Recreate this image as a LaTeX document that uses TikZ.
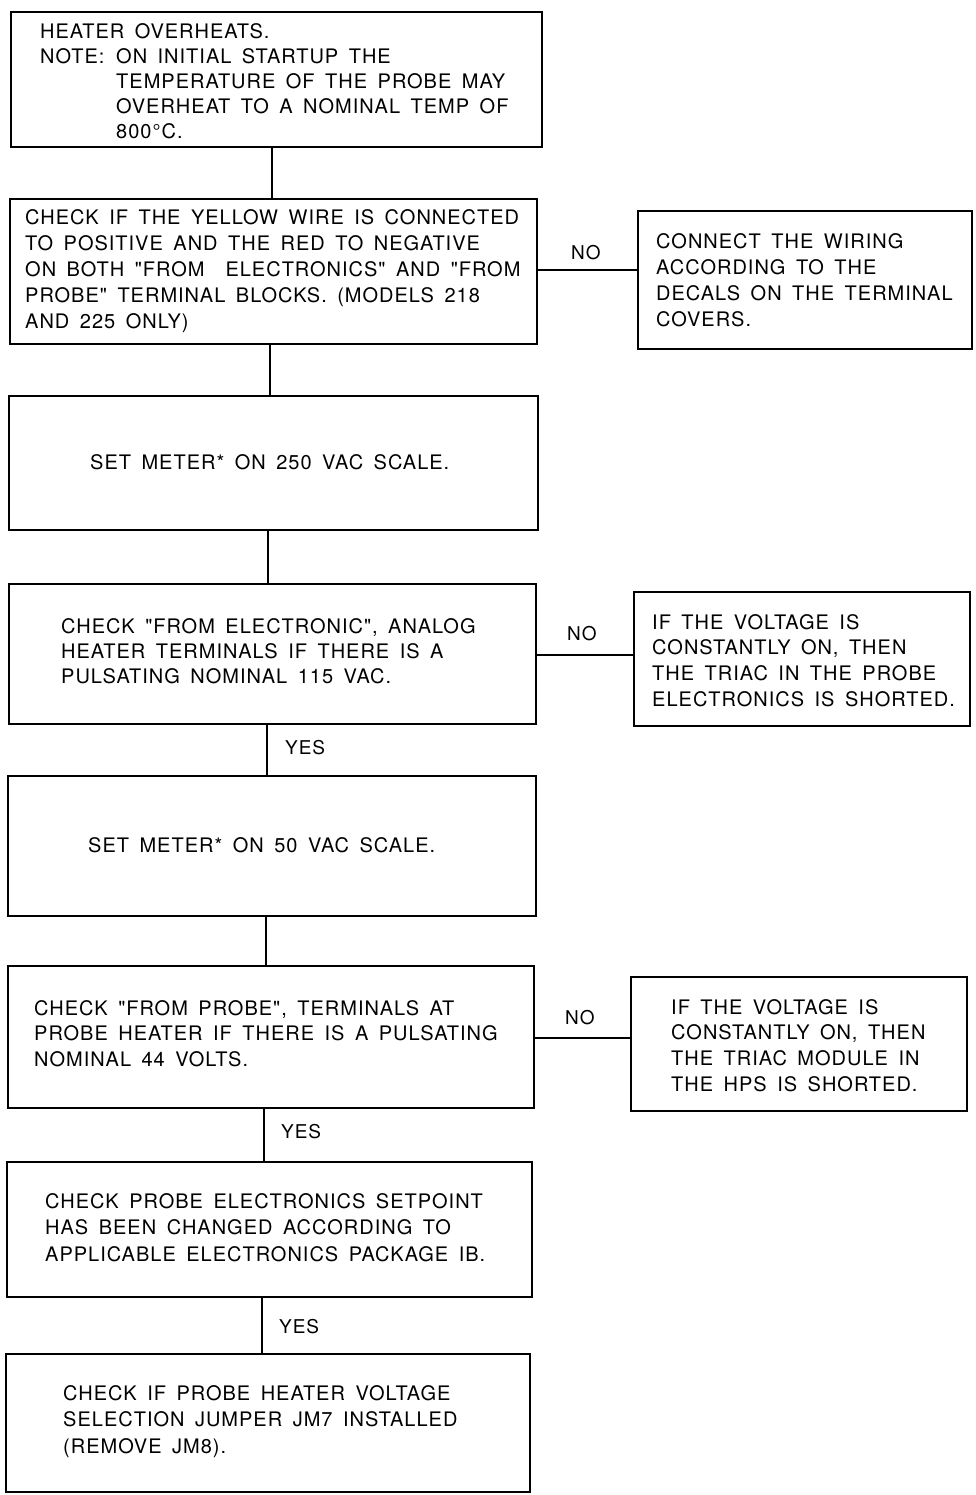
\documentclass[tikz,border=0pt]{standalone}
\usepackage{fontspec}
\newfontfamily\hv{TeX Gyre Heros}[WordSpace=1.6,LetterSpace=5]
\newcommand\mylines[2][25.5pt]{\vtop{\baselineskip=#1\lineskiplimit=0pt\halign{##\hfil\cr#2\crcr}}}
\tikzset{
  box/.style={draw, line width=2.2pt, inner sep=0pt},
  txt/.style={anchor=base west, inner sep=0pt, font=\hv\fontsize{20}{25.5}\selectfont},
  lbl/.style={anchor=base west, inner sep=0pt, font=\hv\fontsize{19}{22}\selectfont},
  conn/.style={line width=2pt}
}
\begin{document}
\begin{tikzpicture}[x=1pt,y=-1pt]
\useasboundingbox (0,0) rectangle (976,1495);
% boxes
\node[box, minimum width=531pt, minimum height=135pt] (b1) at (276.5,79.5) {};
\node[box, minimum width=527pt, minimum height=145pt] (b2) at (273.5,271.5) {};
\node[box, minimum width=334pt, minimum height=138pt] (b2r) at (805,280) {};
\node[box, minimum width=529pt, minimum height=134pt] (b3) at (273.5,463) {};
\node[box, minimum width=527pt, minimum height=140pt] (b4) at (272.5,654) {};
\node[box, minimum width=336pt, minimum height=134pt] (b4r) at (802,659) {};
\node[box, minimum width=528pt, minimum height=140pt] (b5) at (272,846) {};
\node[box, minimum width=526pt, minimum height=142pt] (b6) at (271,1037) {};
\node[box, minimum width=336pt, minimum height=134pt] (b6r) at (799,1044) {};
\node[box, minimum width=525pt, minimum height=135pt] (b7) at (269.5,1229.5) {};
\node[box, minimum width=524pt, minimum height=138pt] (b8) at (268,1423) {};
% texts
\node[txt] (t1) at (40,39) {\mylines[25pt]{HEATER OVERHEATS.\cr
\makebox[76pt][l]{NOTE:}ON INITIAL STARTUP THE\cr
\hspace*{76pt}TEMPERATURE OF THE PROBE MAY\cr
\hspace*{76pt}OVERHEAT TO A NOMINAL TEMP OF\cr
\hspace*{76pt}800°C.}};
\node[txt] (t2) at (25,225) {\mylines[25.8pt]{CHECK IF THE YELLOW WIRE IS CONNECTED\cr
TO POSITIVE AND THE RED TO NEGATIVE\cr
ON BOTH "FROM\ \ ELECTRONICS" AND "FROM\cr
PROBE" TERMINAL BLOCKS. (MODELS 218\cr
AND 225 ONLY)}};
\node[txt] (t2r) at (656,249) {\mylines[26pt]{CONNECT THE WIRING\cr
ACCORDING TO THE\cr
DECALS ON THE TERMINAL\cr
COVERS.}};
\node[txt] (t3) at (90,469) {SET METER* ON 250 VAC SCALE.};
\node[txt] (t4) at (61,633) {\mylines[25pt]{CHECK "FROM ELECTRONIC", ANALOG\cr
HEATER TERMINALS IF THERE IS A\cr
PULSATING NOMINAL 115 VAC.}};
\node[txt] (t4r) at (652,629) {\mylines[25.7pt]{IF THE VOLTAGE IS\cr
CONSTANTLY ON, THEN\cr
THE TRIAC IN THE PROBE\cr
ELECTRONICS IS SHORTED.}};
\node[txt] (t5) at (88,852) {SET METER* ON 50 VAC SCALE.};
\node[txt] (t6) at (34,1015) {\mylines[25.5pt]{CHECK "FROM PROBE", TERMINALS AT\cr
PROBE HEATER IF THERE IS A PULSATING\cr
NOMINAL 44 VOLTS.}};
\node[txt] (t6r) at (671,1014) {\mylines[25.7pt]{IF THE VOLTAGE IS\cr
CONSTANTLY ON, THEN\cr
THE TRIAC MODULE IN\cr
THE HPS IS SHORTED.}};
\node[txt] (t7) at (45,1208) {\mylines[26.5pt]{CHECK PROBE ELECTRONICS SETPOINT\cr
HAS BEEN CHANGED ACCORDING TO\cr
APPLICABLE ELECTRONICS PACKAGE IB.}};
\node[txt] (t8) at (63,1400) {\mylines[26.5pt]{CHECK IF PROBE HEATER VOLTAGE\cr
SELECTION JUMPER JM7 INSTALLED\cr
(REMOVE JM8).}};
% labels
\node[lbl] (n1) at (571,260) {NO};
\node[lbl] (n2) at (567,640) {NO};
\node[lbl] (n3) at (565,1024) {NO};
\node[lbl] (y1) at (285,754) {YES};
\node[lbl] (y2) at (281,1138) {YES};
\node[lbl] (y3) at (279,1333) {YES};
% connectors
\draw[conn] (b1.south -| 272,0) -- (b2.north -| 272,0);
\draw[conn] (b2.south -| 270,0) -- (b3.north -| 270,0);
\draw[conn] (b3.south -| 268,0) -- (b4.north -| 268,0);
\draw[conn] (b4.south -| 267,0) -- (b5.north -| 267,0);
\draw[conn] (b5.south -| 266,0) -- (b6.north -| 266,0);
\draw[conn] (b6.south -| 264,0) -- (b7.north -| 264,0);
\draw[conn] (b7.south -| 262,0) -- (b8.north -| 262,0);
\draw[conn] (b2.east |- 0,270) -- (b2r.west |- 0,270);
\draw[conn] (b4.east |- 0,655) -- (b4r.west |- 0,655);
\draw[conn] (b6.east |- 0,1038) -- (b6r.west |- 0,1038);
\end{tikzpicture}
\end{document}
